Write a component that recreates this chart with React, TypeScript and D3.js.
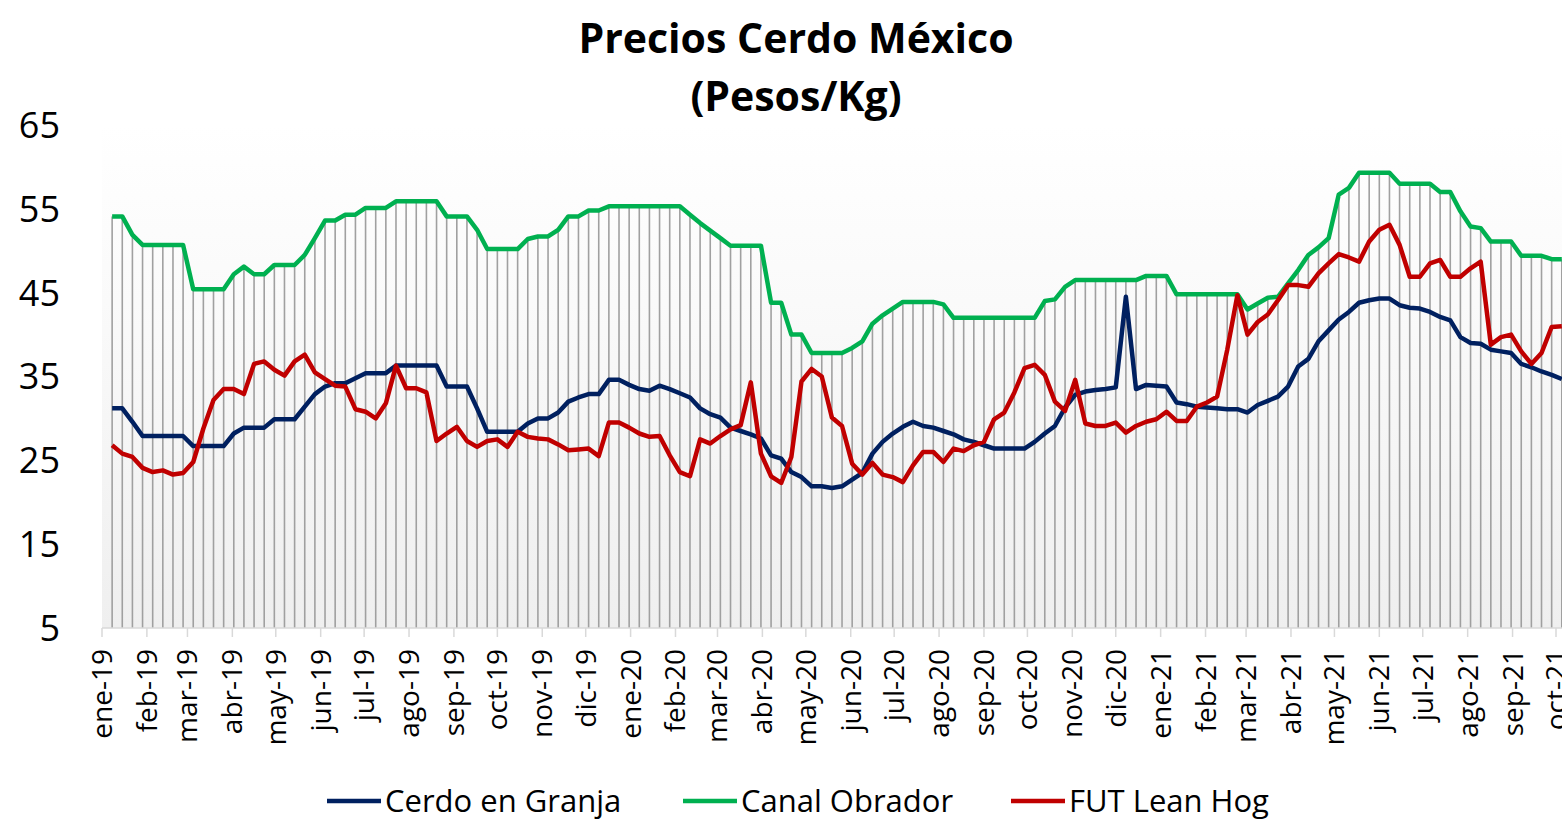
import React from "react";
import * as d3 from "d3";

// weekly quotes, first week of 2019 to early oct-21
const startDate = "2019-01-08";
const monthNames = ["ene", "feb", "mar", "abr", "may", "jun", "jul", "ago", "sep", "oct", "nov", "dic"];
const yTicks = [5, 15, 25, 35, 45, 55, 65];

const granja = [
  31.2, 31.2, 29.6, 27.9, 27.9, 27.9, 27.9, 27.9, 26.7, 26.7, 26.7, 26.7, 28.2, 28.9, 28.9, 28.9, 29.9, 29.9, 29.9, 31.4,
  32.9, 33.8, 34.2, 34.2, 34.8, 35.4, 35.4, 35.4, 36.3, 36.3, 36.3, 36.3, 36.3, 33.8, 33.8, 33.8, 31.2, 28.4, 28.4, 28.4,
  28.4, 29.4, 30.0, 30.0, 30.7, 32.0, 32.5, 32.9, 32.9, 34.6, 34.6, 34.0, 33.5, 33.3, 33.9, 33.5, 33.0, 32.5, 31.2, 30.5,
  30.1, 28.9, 28.5, 28.1, 27.6, 25.6, 25.2, 23.6, 23.0, 21.9, 21.9, 21.7, 21.9, 22.7, 23.5, 25.8, 27.2, 28.2, 29.0, 29.6,
  29.1, 28.9, 28.5, 28.1, 27.5, 27.2, 26.8, 26.4, 26.4, 26.4, 26.4, 27.2, 28.2, 29.1, 31.3, 32.8, 33.2, 33.4, 33.5, 33.7,
  44.5, 33.5, 34.0, 33.9, 33.8, 31.9, 31.7, 31.4, 31.3, 31.2, 31.1, 31.1, 30.7, 31.6, 32.1, 32.6, 33.8, 36.2, 37.1, 39.2,
  40.5, 41.8, 42.7, 43.8, 44.1, 44.3, 44.3, 43.5, 43.2, 43.1, 42.7, 42.1, 41.7, 39.7, 39.0, 38.9, 38.2, 38.0, 37.8, 36.5,
  36.1, 35.6, 35.2, 34.7,
];

const canal = [
  54.1, 54.1, 51.9, 50.7, 50.7, 50.7, 50.7, 50.7, 45.4, 45.4, 45.4, 45.4, 47.2, 48.1, 47.2, 47.2, 48.3, 48.3, 48.3, 49.5,
  51.5, 53.6, 53.6, 54.3, 54.3, 55.1, 55.1, 55.1, 55.9, 55.9, 55.9, 55.9, 55.9, 54.1, 54.1, 54.1, 52.5, 50.2, 50.2, 50.2,
  50.2, 51.4, 51.7, 51.7, 52.5, 54.1, 54.1, 54.8, 54.8, 55.3, 55.3, 55.3, 55.3, 55.3, 55.3, 55.3, 55.3, 54.3, 53.3, 52.4,
  51.5, 50.6, 50.6, 50.6, 50.6, 43.8, 43.8, 40.0, 40.0, 37.8, 37.8, 37.8, 37.8, 38.4, 39.2, 41.3, 42.3, 43.1, 43.9, 43.9,
  43.9, 43.9, 43.6, 42.0, 42.0, 42.0, 42.0, 42.0, 42.0, 42.0, 42.0, 42.0, 44.0, 44.2, 45.7, 46.5, 46.5, 46.5, 46.5, 46.5,
  46.5, 46.5, 47.0, 47.0, 47.0, 44.8, 44.8, 44.8, 44.8, 44.8, 44.8, 44.8, 43.0, 43.7, 44.4, 44.5, 46.1, 47.7, 49.5, 50.4,
  51.5, 56.7, 57.5, 59.3, 59.3, 59.3, 59.3, 58.0, 58.0, 58.0, 58.0, 57.0, 57.0, 54.7, 52.9, 52.7, 51.1, 51.1, 51.1, 49.4,
  49.4, 49.4, 49.0, 49.0,
];

const leanHog = [
  26.8, 25.8, 25.4, 24.1, 23.6, 23.8, 23.3, 23.5, 24.8, 28.8, 32.2, 33.5, 33.5, 32.9, 36.5, 36.8, 35.8, 35.1, 36.8, 37.6,
  35.5, 34.7, 33.9, 33.8, 31.1, 30.8, 30.0, 31.8, 36.3, 33.6, 33.6, 33.1, 27.3, 28.2, 29.0, 27.3, 26.6, 27.3, 27.5, 26.6,
  28.4, 27.8, 27.6, 27.5, 26.9, 26.2, 26.3, 26.4, 25.5, 29.5, 29.5, 28.9, 28.2, 27.8, 27.9, 25.6, 23.6, 23.1, 27.5, 27.0,
  27.9, 28.7, 29.2, 34.3, 25.8, 23.1, 22.3, 25.4, 34.4, 35.9, 35.0, 30.1, 29.1, 24.6, 23.3, 24.7, 23.3, 23.0, 22.4, 24.4,
  26.0, 26.0, 24.8, 26.4, 26.1, 26.8, 27.2, 29.9, 30.7, 33.1, 36.0, 36.4, 35.2, 32.0, 30.9, 34.6, 29.4, 29.1, 29.1, 29.5,
  28.3, 29.1, 29.6, 29.9, 30.8, 29.7, 29.7, 31.4, 31.9, 32.6, 38.2, 44.7, 40.0, 41.5, 42.4, 44.1, 45.9, 45.9, 45.7, 47.3,
  48.5, 49.6, 49.2, 48.7, 51.1, 52.5, 53.1, 50.7, 46.9, 46.9, 48.5, 48.9, 46.9, 46.9, 47.9, 48.7, 38.8, 39.7, 40.0, 38.0,
  36.5, 37.8, 40.9, 41.0,
];

const series = [
  { name: "Cerdo en Granja", values: granja, color: "#002060" },
  { name: "Canal Obrador", values: canal, color: "#00b050" },
  { name: "FUT Lean Hog", values: leanHog, color: "#c00000" },
];

const W = 1562;
const H = 820;
const FONT = "'Open Sans', 'Noto Sans', sans-serif";

function PorkChart() {
  const ref = React.useRef<SVGSVGElement | null>(null);

  React.useEffect(() => {
    if (!ref.current) return;
    const svg = d3.select(ref.current);
    svg.selectAll("*").remove();

    const start = d3.timeParse("%Y-%m-%d")(startDate)!;
    const dates = granja.map((_, i) => d3.timeDay.offset(start, i * 7));
    const x = d3
      .scaleTime()
      .domain([new Date(2019, 0, 1), new Date(2021, 9, 1)])
      .range([102, 1556]);
    const y = d3.scaleLinear().domain([5, 65]).range([628, 125]);

    const defs = svg.append("defs");
    const grad = defs
      .append("linearGradient")
      .attr("id", "bg")
      .attr("x1", 0)
      .attr("y1", 0)
      .attr("x2", 0)
      .attr("y2", 1);
    grad.append("stop").attr("offset", "0%").attr("stop-color", "#ffffff");
    grad.append("stop").attr("offset", "35%").attr("stop-color", "#fafafa");
    grad.append("stop").attr("offset", "100%").attr("stop-color", "#efefef");

    svg
      .append("rect")
      .attr("x", 102)
      .attr("y", y(65))
      .attr("width", W - 102)
      .attr("height", y(5) - y(65))
      .attr("fill", "url(#bg)");

    // drop lines from the top series to the axis
    svg
      .append("g")
      .selectAll("line")
      .data(dates)
      .join("line")
      .attr("x1", d => x(d))
      .attr("x2", d => x(d))
      .attr("y1", (_, i) => y(Math.max(granja[i], canal[i], leanHog[i])))
      .attr("y2", y(5))
      .attr("stroke", "#a0a0a0")
      .attr("stroke-width", 1.6);

    // x axis
    const months = d3.timeMonth.range(new Date(2019, 0, 1), new Date(2021, 9, 2));
    svg
      .append("line")
      .attr("x1", 102)
      .attr("x2", W)
      .attr("y1", y(5))
      .attr("y2", y(5))
      .attr("stroke", "#d9d9d9")
      .attr("stroke-width", 1.5);
    const mt = svg.append("g").selectAll("g").data(months).join("g");
    mt.append("line")
      .attr("x1", d => x(d))
      .attr("x2", d => x(d))
      .attr("y1", y(5))
      .attr("y2", y(5) + 9)
      .attr("stroke", "#d9d9d9")
      .attr("stroke-width", 1.5);
    mt.append("text")
      .attr("transform", d => `translate(${x(d) + 10},${y(5) + 21}) rotate(-90)`)
      .attr("text-anchor", "end")
      .attr("font-family", FONT)
      .attr("font-size", 28)
      .attr("fill", "#000")
      .text(d => `${monthNames[d.getMonth()]}-${d3.timeFormat("%y")(d)}`);

    // y labels
    svg
      .append("g")
      .selectAll("text")
      .data(yTicks)
      .join("text")
      .attr("x", 60)
      .attr("y", d => y(d))
      .attr("dy", "0.36em")
      .attr("text-anchor", "end")
      .attr("font-family", FONT)
      .attr("font-size", 36)
      .attr("fill", "#000")
      .text(d => d);

    const line = d3
      .line<number>()
      .x((_, i) => x(dates[i]))
      .y(d => y(d));
    series.forEach(s => {
      svg
        .append("path")
        .datum(s.values)
        .attr("fill", "none")
        .attr("stroke", s.color)
        .attr("stroke-width", 4.5)
        .attr("stroke-linejoin", "round")
        .attr("d", line);
    });

    // title
    const title = svg
      .append("text")
      .attr("text-anchor", "middle")
      .attr("font-family", FONT)
      .attr("font-weight", "bold")
      .attr("font-size", 41)
      .attr("fill", "#000");
    title.append("tspan").attr("x", 796).attr("y", 53).text("Precios Cerdo México");
    title.append("tspan").attr("x", 796).attr("y", 111).text("(Pesos/Kg)");

    // legend
    const legendX = [327, 683, 1011];
    const lg = svg
      .append("g")
      .selectAll("g")
      .data(series)
      .join("g")
      .attr("transform", (_, i) => `translate(${legendX[i]},801)`);
    lg.append("line")
      .attr("x1", 0)
      .attr("x2", 54)
      .attr("stroke", d => d.color)
      .attr("stroke-width", 4.5);
    lg.append("text")
      .attr("x", 58)
      .attr("dy", "0.36em")
      .attr("font-family", FONT)
      .attr("font-size", 31)
      .attr("fill", "#000")
      .text(d => d.name);
  }, []);

  return <svg ref={ref} width={W} height={H} style={{ display: "block" }}></svg>;
}

export default function App() {
  React.useEffect(() => {
    document.body.style.margin = "0";
  }, []);
  return <PorkChart />;
}
